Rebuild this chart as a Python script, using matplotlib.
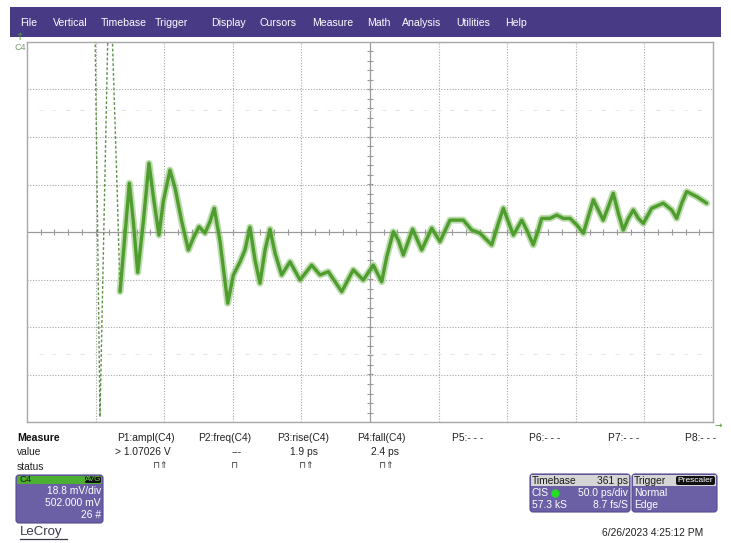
import matplotlib
matplotlib.use("Agg")
import matplotlib.pyplot as plt
from matplotlib.patches import Rectangle, FancyBboxPatch
import numpy as np

# ---------------- data ----------------
menu_items = ["File", "Vertical", "Timebase", "Trigger", "Display", "Cursors",
              "Measure", "Math", "Analysis", "Utilities", "Help"]

# fast transition (sparse samples) in ps / mV relative to centre
spike_t = [49.6, 53.2, 59.0, 62.0, 65.6, 67.8]
spike_v = [80.0, -73.2, 80.0, 80.0, 18.6, -23.6]

# averaged ringing trace (ps, mV relative to centre)
trace_t = [67.8, 71.4, 74.6, 77.5, 80.7, 84.8, 88.9, 92.6, 96.2, 99.3,
           104.2, 107.9, 112.8, 117.6, 121.2, 125.4, 129.7, 133.4, 136.5, 140.7,
           146.3, 150.4, 155.2, 158.9, 162.5, 166.2, 169.8, 173.5, 177.1, 180.8,
           185.6, 191.7, 199.0, 207.5, 213.6, 219.6, 229.4, 237.8, 245.1, 252.4,
           258.5, 262.2, 267.0, 270.6, 274.3, 281.1, 287.7, 295.0, 301.0, 308.3,
           318.0, 324.1, 330.2, 338.7, 343.5, 347.2, 350.8, 354.5, 360.6, 364.2,
           369.0, 372.7, 375.1, 381.2, 386.1, 390.9, 395.8, 400.7, 405.5, 409.1,
           412.8, 416.4, 420.0, 423.7, 427.3, 431.0, 434.6, 438.3, 441.9, 445.6,
           449.2, 455.3, 463.8, 469.9, 473.5, 477.2, 480.8, 488.1, 495.4]
trace_v = [-23.6, -1.2, 19.3, 4.1, -16.0, 4.1, 27.2, 12.0, -1.2, 12.0,
           24.5, 17.4, 4.1, -7.1, -2.4, 2.1, -0.4, 4.1, 9.4, -3.8,
           -28.2, -17.0, -11.9, -7.1, 1.9, -11.1, -20.3, -7.1, 1.1, -8.4,
           -17.0, -11.8, -19.0, -13.1, -17.0, -15.7, -23.6, -15.0, -19.0, -13.1,
           -19.7, -9.8, 0.1, -3.2, -9.1, 1.1, -7.1, 1.5, -3.8, 4.7,
           4.7, 0.8, -0.5, -5.1, 3.4, 9.4, 4.1, -1.2, 4.7, 0.8,
           -5.1, 0.8, 5.4, 5.4, 6.7, 5.4, 5.4, 2.8, -0.5, 6.1,
           12.7, 8.7, 4.7, 10.0, 15.3, 7.4, 0.8, 5.4, 8.7, 5.4,
           3.4, 9.4, 11.4, 8.7, 5.4, 11.4, 16.0, 14.0, 11.4]

time_per_div = 50.0   # ps/div
volt_per_div = 18.8   # mV/div

meas_labels = ["P1:ampl(C4)", "P2:freq(C4)", "P3:rise(C4)", "P4:fall(C4)",
               "P5:- - -", "P6:- - -", "P7:- - -", "P8:- - -"]
meas_values = ["> 1.07026 V", "---", "1.9 ps", "2.4 ps"]
meas_status = ["⊓⇑", "⊓", "⊓⇑", "⊓⇑"]

ch_lines = ["18.8 mV/div", "502.000 mV", "26 #"]
tb_header = ("Timebase", "361 ps")
tb_lines = [("CIS", "50.0 ps/div"), ("57.3 kS", "8.7 fs/S")]
trig_lines = ["Normal", "Edge"]
date_text = "6/26/2023 4:25:12 PM"

# ---------------- figure ----------------
W, H = 731, 543
plt.rcParams['font.family'] = ['Liberation Sans', 'DejaVu Sans']
fig = plt.figure(figsize=(W / 100, H / 100), dpi=100)
fig.patch.set_facecolor("white")

bg = fig.add_axes([0, 0, 1, 1])
bg.set_xlim(0, W)
bg.set_ylim(H, 0)
bg.axis("off")

purple_dark = "#483a85"
purple_box = "#6b5fa6"
green = "#4f9d2e"

# menu bar
bg.add_patch(Rectangle((10, 7), 711, 30, facecolor=purple_dark, edgecolor="none"))
menu_x = [20, 53, 101, 155, 211, 259, 312, 367, 402, 456, 505]
for x, m in zip(menu_x, menu_items):
    bg.text(x, 22.5, m, color="white", fontsize=7.6, va="center", ha="left")

# grid axes
L, T, R, B = 27, 42, 713, 422
ax = fig.add_axes([L / W, 1 - B / H, (R - L) / W, (B - T) / H])
ax.set_xlim(0, 10 * time_per_div)
ax.set_ylim(-4 * volt_per_div, 4 * volt_per_div)
ax.set_xticks([]); ax.set_yticks([])
for s in ax.spines.values():
    s.set_color("#a8a8a8"); s.set_linewidth(1.0)

grid_kw = dict(color="#a6a6a6", lw=0.8, ls=(0, (1, 1.5)), zorder=1)
for i in range(1, 10):
    if i != 5:
        ax.axvline(i * time_per_div, **grid_kw)
for j in range(-3, 4):
    if j != 0:
        ax.axhline(j * volt_per_div, **grid_kw)
ax.axvline(5 * time_per_div, color="#9a9a9a", lw=0.9, zorder=1)
ax.axhline(0, color="#9a9a9a", lw=0.9, zorder=1)
# minor ticks on centre cross
mx = np.arange(0, 10 * time_per_div + 1e-6, time_per_div / 5)
my = np.arange(-4 * volt_per_div, 4 * volt_per_div + 1e-6, volt_per_div / 5)
ax.plot(mx, np.zeros_like(mx), ls="none", marker="|", ms=5, mew=0.8, color="#9a9a9a", zorder=1)
ax.plot(np.full_like(my, 5 * time_per_div), my, ls="none", marker="_", ms=5, mew=0.8, color="#9a9a9a", zorder=1)
# faint rows
for yy in (2.57 * volt_per_div, -2.57 * volt_per_div):
    ax.plot(mx[1:-1], np.full(len(mx) - 2, yy), ls="none", marker="_", ms=3, mew=0.7,
            color="#e4e4e4", zorder=1)

# waveform
ax.plot(spike_t, spike_v, color="#5f8f4a", lw=1.0, ls=(0, (2, 1.5)), zorder=3, clip_on=True)
ax.plot(trace_t, trace_v, color="#7dbb5c", lw=5.0, alpha=0.5, zorder=3,
        solid_joinstyle="round", solid_capstyle="round")
ax.plot(trace_t, trace_v, color=green, lw=2.4, zorder=4,
        solid_joinstyle="round", solid_capstyle="round")

# markers
bg.text(20, 37, "↑", color=green, fontsize=7, ha="center", va="center", family="DejaVu Sans")
bg.text(20, 47, "C4", color="#7a9a70", fontsize=6.5, ha="center", va="center")
bg.text(718, 425, "→", color=green, fontsize=6.5, ha="center", va="center", family="DejaVu Sans")

# measurement table
bg.text(17, 438, "Measure", fontsize=7.6, fontweight="bold", va="center", color="#111111")
bg.text(17, 452, "value", fontsize=7.4, va="center", color="#222222")
bg.text(17, 467, "status", fontsize=7.4, va="center", color="#222222")
lab_x = [117, 198, 277, 357, 452, 529, 608, 685]
for x, t in zip(lab_x, meas_labels):
    bg.text(x, 438, t, fontsize=7.4, va="center", ha="left", color="#222222")
val_x = [171, 242, 318, 399]
for x, t in zip(val_x, meas_values):
    bg.text(x, 452, t, fontsize=7.4, va="center", ha="right", color="#222222")
st_x = [168, 238, 313, 394]
for x, t in zip(st_x, meas_status):
    bg.text(x, 466, t, fontsize=6.5, va="center", ha="right", color="#333333",
            family="DejaVu Sans")

# channel box
bg.add_patch(FancyBboxPatch((16, 475), 87, 48, boxstyle="round,pad=0,rounding_size=3",
                            facecolor=purple_box, edgecolor="#55498e", lw=0.8))
bg.add_patch(Rectangle((17, 476), 85, 7.5, facecolor="#4caf32", edgecolor="none"))
bg.text(19, 479.8, "C4", fontsize=6.8, va="center", color="#1a1a1a")
bg.add_patch(FancyBboxPatch((85, 476.5), 16, 6.5, boxstyle="round,pad=0,rounding_size=1.5",
                            facecolor="#111111", edgecolor="none"))
bg.text(93, 479.8, "AVG", fontsize=5.8, va="center", ha="center", color="#6fd24a")
for k, t in enumerate(ch_lines):
    bg.text(101, 491 + 12 * k, t, fontsize=7.4, va="center", ha="right", color="white")

bg.text(20, 532, "LeCroy", fontsize=9.5, va="center", ha="left", color="#3a3a4a")
bg.plot([20, 67], [538.5, 538.5], color="#3a3a4a", lw=0.9)

# timebase box
bg.add_patch(FancyBboxPatch((530, 474), 100, 38, boxstyle="round,pad=0,rounding_size=3",
                            facecolor=purple_box, edgecolor="#55498e", lw=0.8))
bg.add_patch(Rectangle((531, 475), 98, 11, facecolor="#d6d6d6", edgecolor="none"))
bg.text(532, 480.5, tb_header[0], fontsize=7.4, va="center", color="#1a1a1a")
bg.text(628, 480.5, tb_header[1], fontsize=7.4, va="center", ha="right", color="#1a1a1a")
for k, (a, b) in enumerate(tb_lines):
    bg.text(532, 493 + 12 * k, a, fontsize=7.4, va="center", color="white")
    bg.text(628, 493 + 12 * k, b, fontsize=7.4, va="center", ha="right", color="white")
bg.plot([554.5], [493], marker="o", ms=6, color="#22dd22", mec="none")

# trigger box
bg.add_patch(FancyBboxPatch((632, 474), 85, 38, boxstyle="round,pad=0,rounding_size=3",
                            facecolor=purple_box, edgecolor="#55498e", lw=0.8))
bg.add_patch(Rectangle((633, 475), 83, 11, facecolor="#d6d6d6", edgecolor="none"))
bg.text(634, 480.5, "Trigger", fontsize=7.4, va="center", color="#1a1a1a")
bg.add_patch(FancyBboxPatch((676, 476), 39, 9, boxstyle="round,pad=0,rounding_size=2",
                            facecolor="#111111", edgecolor="none"))
bg.text(695.5, 480.5, "Prescaler", fontsize=6.0, va="center", ha="center", color="white")
for k, t in enumerate(trig_lines):
    bg.text(634, 493 + 12 * k, t, fontsize=7.4, va="center", color="white")

bg.text(703, 533, date_text, fontsize=7.4, va="center", ha="right", color="#222222")

fig.savefig("out.png", dpi=100, facecolor="white")
